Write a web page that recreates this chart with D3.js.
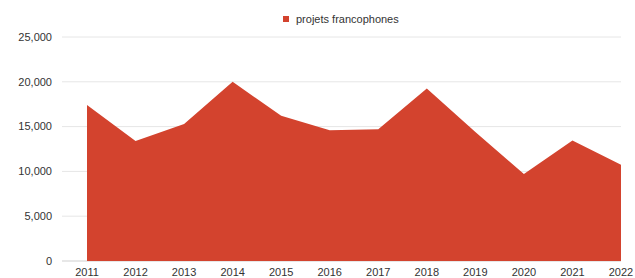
<!DOCTYPE html>
<html>
<head>
<meta charset="utf-8">
<script src="https://cdn.jsdelivr.net/npm/d3@7"></script>
<style>
  body { margin: 0; background: #fff; }
  text { font-family: "Liberation Sans", Arial, sans-serif; }
</style>
</head>
<body>
<div id="chart"></div>
<script>
var years = ["2011","2012","2013","2014","2015","2016","2017","2018","2019","2020","2021","2022"]
var values = [17400, 13400, 15300, 20000, 16200, 14600, 14700, 19250, 14400, 9700, 13450, 10750]
var yTicks = [0, 5000, 10000, 15000, 20000, 25000]
var seriesName = "projets francophones"

var W = 635, H = 278
var margin = {top: 37, right: 14, bottom: 17, left: 62}
var width = W - margin.left - margin.right,
    height = H - margin.top - margin.bottom

var svg = d3.select("#chart").append("svg")
    .attr("width", W)
    .attr("height", H)

var g = svg.append("g")
    .attr("transform", "translate(" + margin.left + "," + margin.top + ")")

var x = d3.scalePoint()
    .domain(years)
    .range([25, 559])

var y = d3.scaleLinear()
    .domain([0, 25000])
    .range([height, 0])

// gridlines
g.selectAll(".grid")
    .data(yTicks)
    .enter().append("line")
    .attr("x1", 0)
    .attr("x2", width)
    .attr("y1", d => y(d))
    .attr("y2", d => y(d))
    .attr("stroke", d => d == 0 ? "#cfcfcf" : "#e6e6e6")
    .attr("stroke-width", 1)

// y labels
g.selectAll(".ylab")
    .data(yTicks)
    .enter().append("text")
    .attr("x", -10)
    .attr("y", d => y(d))
    .attr("dy", "0.35em")
    .attr("text-anchor", "end")
    .style("font-size", "11px")
    .attr("fill", "#333")
    .text(d => d3.format(",")(d))

// area
var area = d3.area()
    .x((d, i) => x(years[i]))
    .y0(y(0))
    .y1(d => y(d))

g.append("path")
    .datum(values)
    .attr("d", area)
    .attr("fill", "#d3432e")

// x labels
g.selectAll(".xlab")
    .data(years)
    .enter().append("text")
    .attr("x", d => x(d))
    .attr("y", height + 15)
    .attr("text-anchor", "middle")
    .style("font-size", "11px")
    .attr("fill", "#333")
    .text(d => d)

// legend
var leg = svg.append("g").attr("transform", "translate(283,16)")
leg.append("rect")
    .attr("width", 6)
    .attr("height", 6)
    .attr("fill", "#d3432e")
leg.append("text")
    .attr("x", 13)
    .attr("y", 3)
    .attr("dy", "0.35em")
    .style("font-size", "11px")
    .attr("fill", "#333")
    .text(seriesName)
</script>
</body>
</html>
